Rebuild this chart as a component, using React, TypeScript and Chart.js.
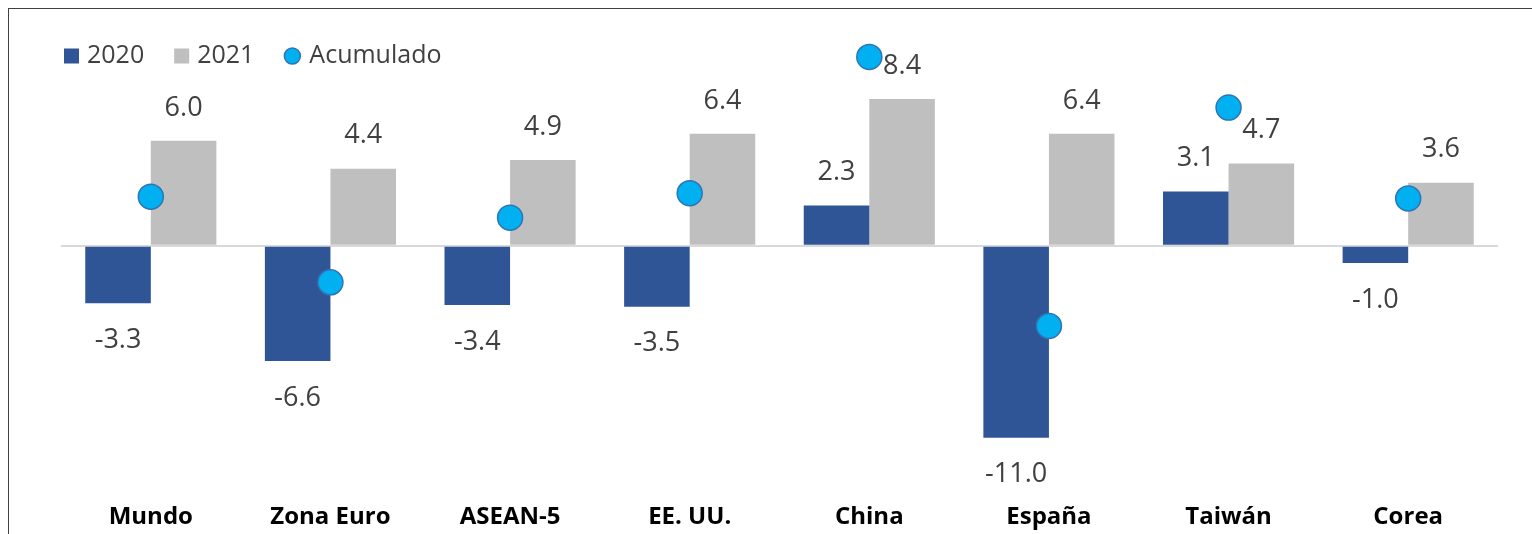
import React, { useEffect, useRef } from "react";
import { Chart, registerables } from "chart.js";

Chart.register(...registerables);

const categories = ["Mundo", "Zona Euro", "ASEAN-5", "EE. UU.", "China", "España", "Taiwán", "Corea"];
const values2020 = [-3.3, -6.6, -3.4, -3.5, 2.3, -11.0, 3.1, -1.0];
const values2021 = [6.0, 4.4, 4.9, 6.4, 8.4, 6.4, 4.7, 3.6];
const acumulado = [2.8, -2.1, 1.6, 3.0, 10.8, -4.6, 7.9, 2.7];
const seriesNames = ["2020", "2021", "Acumulado"];

const COLOR_2020 = "#2F5597";
const COLOR_2021 = "#BFBFBF";
const COLOR_ACUM = "#00B0F0";
const COLOR_ACUM_BORDER = "#2E75B6";
const TEXT_COLOR = "#404040";
const FONT = '"Open Sans", "Noto Sans", sans-serif';

const dataLabelsPlugin = {
  id: "dataLabels",
  afterDatasetsDraw(chart: any) {
    const ctx = chart.ctx;
    ctx.save();
    ctx.font = `27px ${FONT}`;
    ctx.fillStyle = TEXT_COLOR;
    ctx.textAlign = "center";
    ctx.textBaseline = "middle";
    chart.data.datasets.forEach((ds: any, i: number) => {
      if (ds.type !== "bar") return;
      const meta = chart.getDatasetMeta(i);
      meta.data.forEach((el: any, j: number) => {
        const v = ds.data[j] as number;
        const y = v >= 0 ? el.y - 33 : el.y + 37;
        ctx.fillText(v.toFixed(1), el.x, y);
      });
    });
    ctx.restore();
  },
};

const legendPlugin = {
  id: "customLegend",
  afterDraw(chart: any) {
    const ctx = chart.ctx;
    ctx.save();
    ctx.font = `25px ${FONT}`;
    ctx.textBaseline = "middle";
    ctx.textAlign = "left";
    let x = 64;
    const cy = 56;
    chart.data.datasets.forEach((ds: any) => {
      if (ds.type === "bar") {
        ctx.fillStyle = ds.backgroundColor;
        ctx.fillRect(x, cy - 7.5, 15, 15);
      } else {
        ctx.beginPath();
        ctx.arc(x + 8, cy, 8, 0, Math.PI * 2);
        ctx.fillStyle = ds.pointBackgroundColor;
        ctx.fill();
        ctx.lineWidth = 1.5;
        ctx.strokeStyle = ds.pointBorderColor;
        ctx.stroke();
        x += 2;
      }
      x += 23;
      ctx.fillStyle = TEXT_COLOR;
      ctx.fillText(ds.label, x, cy);
      x += ctx.measureText(ds.label).width + 30;
    });
    ctx.restore();
  },
};

export default function App() {
  const ref = useRef<HTMLCanvasElement>(null);

  useEffect(() => {
    let chart: Chart | null = null;
    let cancelled = false;
    const make = () => {
      if (cancelled || !ref.current) return;
      chart = new Chart(ref.current, {
        type: "bar",
        data: {
          labels: categories,
          datasets: [
            {
              type: "bar",
              label: seriesNames[0],
              data: values2020,
              backgroundColor: COLOR_2020,
              categoryPercentage: 0.73,
              barPercentage: 1.0,
              order: 2,
            },
            {
              type: "bar",
              label: seriesNames[1],
              data: values2021,
              backgroundColor: COLOR_2021,
              categoryPercentage: 0.73,
              barPercentage: 1.0,
              order: 2,
            },
            {
              type: "line",
              label: seriesNames[2],
              data: acumulado,
              showLine: false,
              pointRadius: 12.5,
              pointHoverRadius: 12.5,
              pointBackgroundColor: COLOR_ACUM,
              pointBorderColor: COLOR_ACUM_BORDER,
              pointBorderWidth: 1.5,
              backgroundColor: COLOR_ACUM,
              borderColor: COLOR_ACUM_BORDER,
              order: 0,
            } as any,
          ],
        },
        options: {
          responsive: false,
          animation: false,
          layout: { padding: { left: 61, right: 34, top: 36, bottom: -11 } },
          plugins: {
            legend: { display: false },
            tooltip: { enabled: false },
          },
          scales: {
            x: {
              grid: { display: false, drawTicks: false },
              border: { display: false },
              ticks: {
                color: "#000000",
                font: { family: FONT, size: 24, weight: "bold" },
                padding: 13,
                maxRotation: 0,
              },
            },
            y: {
              min: -14,
              max: 12,
              ticks: { display: false, stepSize: 2 },
              border: { display: false },
              grid: {
                drawTicks: false,
                lineWidth: 2,
                color: (c: any) => (c.tick && c.tick.value === 0 ? "#D9D9D9" : "rgba(0,0,0,0)"),
              },
            },
          },
        },
        plugins: [dataLabelsPlugin, legendPlugin],
      });
    };
    const fonts = (document as any).fonts;
    if (fonts && fonts.load) {
      Promise.all([
        fonts.load(`27px "Open Sans"`),
        fonts.load(`bold 24px "Open Sans"`),
      ]).then(make, make);
    } else {
      make();
    }
    return () => {
      cancelled = true;
      if (chart) chart.destroy();
    };
  }, []);

  return (
    <div
      style={{
        position: "fixed",
        left: 0,
        top: 0,
        width: 1532,
        height: 534,
        overflow: "hidden",
        background: "#ffffff",
      }}
    >
      <canvas ref={ref} width={1532} height={534} style={{ display: "block" }} />
      <div
        style={{
          position: "absolute",
          left: 8,
          top: 8,
          width: 1600,
          height: 600,
          borderLeft: "1px solid #404040",
          borderTop: "1px solid #404040",
          pointerEvents: "none",
        }}
      />
    </div>
  );
}
